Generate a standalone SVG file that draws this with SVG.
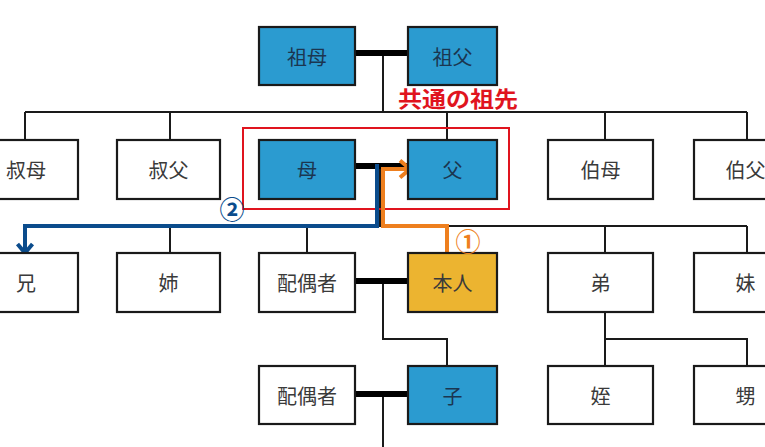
<svg xmlns="http://www.w3.org/2000/svg" width="765" height="447" viewBox="0 0 765 447">
<style>
.b{fill:#fff;stroke:#1a1a1a;stroke-width:2.2}
.k{fill:#2b9bd0;stroke:#1a1a1a;stroke-width:2.2}
.g{fill:#ecb430;stroke:#1a1a1a;stroke-width:2.2}
.t{font-family:"Noto Sans CJK JP","Noto Sans",sans-serif;font-size:20px;fill:#3a3a3a;text-anchor:middle;dominant-baseline:central}
.tk{fill:#1b3650}
.ln{fill:none;stroke:#1a1a1a;stroke-width:2}
.bar{fill:none;stroke:#000;stroke-width:6}
.c{font-family:"Noto Sans CJK JP",sans-serif;font-size:25px;font-weight:bold;text-anchor:middle;dominant-baseline:central}
</style>
<defs>
<marker id="ab" markerUnits="userSpaceOnUse" markerWidth="20" markerHeight="22" viewBox="-12 -11 16 22" refX="0" refY="0" orient="auto">
<path d="M-9,-7.5 L0,0 L-9,7.5" fill="none" stroke="#0b4c8c" stroke-width="4"/>
</marker>
<marker id="ao" markerUnits="userSpaceOnUse" markerWidth="20" markerHeight="24" viewBox="-12 -12 16 24" refX="0" refY="0" orient="auto">
<path d="M-10,-8.5 L0,0 L-10,8.5" fill="none" stroke="#ee7f1e" stroke-width="4"/>
</marker>
</defs>
<rect width="765" height="447" fill="#fff"/>
<g id="connectors">
<path class="ln" d="M383 53 V112 M25 112 H747 M25 112 V140 M170 112 V140 M447 112 V140 M605 112 V140 M747 112 V140"/>
<path class="ln" d="M380 166 V226 M25 226 H747 M25 226 V253 M170 226 V253 M307 226 V253 M447 226 V253 M605 226 V253 M747 226 V253"/>
<path class="ln" d="M383 281 V339 H447 V366 M383 394 V447 M605 312 V366 M605 339 H747 V366"/>
<path class="bar" d="M355 53 H408 M355 166 H408 M355 281 H408 M355 394 H408"/>
<rect x="243" y="128" width="266" height="81" fill="none" stroke="#e0141e" stroke-width="2"/>
<path d="M377 164 V226 H25 V253" fill="none" stroke="#0b4c8c" stroke-width="4" marker-end="url(#ab)"/>
<path d="M447 253 V226 H383 V169 H410" fill="none" stroke="#ee7f1e" stroke-width="4" marker-end="url(#ao)"/>
</g>
<g id="n-sobo"><rect class="k" x="259" y="27" width="96" height="58"/><text class="t tk" x="307" y="56">祖母</text></g>
<g id="n-sofu"><rect class="k" x="408" y="27" width="89" height="58"/><text class="t tk" x="452.5" y="56">祖父</text></g>
<g id="label-common"><text x="398" y="107" font-family="'Noto Sans CJK JP',sans-serif" font-size="22" font-weight="bold" fill="#e0141e" textLength="120" lengthAdjust="spacingAndGlyphs">共通の祖先</text></g>
<g id="n-shukubo"><rect class="b" x="-26" y="140" width="104" height="59"/><text class="t" x="26" y="169.5">叔母</text></g>
<g id="n-shukufu"><rect class="b" x="117" y="140" width="103" height="59"/><text class="t" x="168.5" y="169.5">叔父</text></g>
<g id="n-haha"><rect class="k" x="259" y="140" width="96" height="59"/><text class="t tk" x="307" y="169.5">母</text></g>
<g id="n-chichi"><rect class="k" x="408" y="140" width="89" height="59"/><text class="t tk" x="452.5" y="169.5">父</text></g>
<g id="n-hakubo"><rect class="b" x="548" y="140" width="105" height="59"/><text class="t" x="600.5" y="169.5">伯母</text></g>
<g id="n-hakufu"><rect class="b" x="694" y="140" width="103" height="59"/><text class="t" x="745.5" y="169.5">伯父</text></g>
<g id="n-ani"><rect class="b" x="-26" y="253" width="104" height="59"/><text class="t" x="26" y="282.5">兄</text></g>
<g id="n-ane"><rect class="b" x="117" y="253" width="103" height="59"/><text class="t" x="168.5" y="282.5">姉</text></g>
<g id="n-haigu1"><rect class="b" x="259" y="253" width="96" height="59"/><text class="t" x="307" y="282.5">配偶者</text></g>
<g id="n-honnin"><rect class="g" x="408" y="253" width="89" height="59"/><text class="t" x="452.5" y="282.5">本人</text></g>
<g id="n-otouto"><rect class="b" x="548" y="253" width="105" height="59"/><text class="t" x="600.5" y="282.5">弟</text></g>
<g id="n-imouto"><rect class="b" x="694" y="253" width="103" height="59"/><text class="t" x="745.5" y="282.5">妹</text></g>
<g id="n-haigu2"><rect class="b" x="259" y="366" width="96" height="58"/><text class="t" x="307" y="395">配偶者</text></g>
<g id="n-ko"><rect class="k" x="408" y="366" width="89" height="58"/><text class="t tk" x="452.5" y="395">子</text></g>
<g id="n-mei"><rect class="b" x="548" y="366" width="105" height="58"/><text class="t" x="600.5" y="395">姪</text></g>
<g id="n-oi"><rect class="b" x="694" y="366" width="103" height="58"/><text class="t" x="745.5" y="395">甥</text></g>
<g id="label-1"><text class="c" x="468" y="240" fill="#ee7f1e">①</text></g>
<g id="label-2"><text class="c" x="232" y="208" fill="#0b4c8c">②</text></g>
</svg>
